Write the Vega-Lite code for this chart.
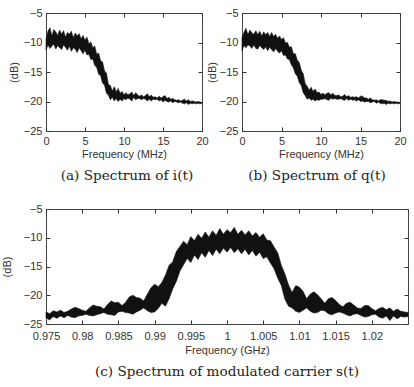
{
  "$schema": "https://vega.github.io/schema/vega-lite/v6.json",
  "padding": {"left": 0, "top": 6, "right": 0, "bottom": 0},
  "background": "white",
  "datasets": {
    "a": [
      {"f":0,"hi":-9.4,"lo":-11.3},{"f":0.25,"hi":-8.1,"lo":-10.4},{"f":0.5,"hi":-7.5,"lo":-11.0},{"f":0.75,"hi":-8.9,"lo":-10.6},
      {"f":1,"hi":-7.8,"lo":-10.3},{"f":1.25,"hi":-8.2,"lo":-11.1},{"f":1.5,"hi":-8.8,"lo":-10.5},{"f":1.75,"hi":-7.9,"lo":-10.9},
      {"f":2,"hi":-8.6,"lo":-11.2},{"f":2.25,"hi":-8.0,"lo":-10.4},{"f":2.5,"hi":-9.1,"lo":-10.8},{"f":2.75,"hi":-8.3,"lo":-11.3},
      {"f":3,"hi":-8.6,"lo":-10.6},{"f":3.25,"hi":-8.1,"lo":-11.5},{"f":3.5,"hi":-9.2,"lo":-10.9},{"f":3.75,"hi":-8.4,"lo":-11.1},
      {"f":4,"hi":-8.9,"lo":-11.7},{"f":4.25,"hi":-8.5,"lo":-10.9},{"f":4.5,"hi":-9.4,"lo":-11.4},{"f":4.75,"hi":-8.8,"lo":-11.9},
      {"f":5,"hi":-9.6,"lo":-11.3},{"f":5.25,"hi":-9.1,"lo":-12.1},{"f":5.5,"hi":-10.2,"lo":-12.0},{"f":5.75,"hi":-9.9,"lo":-12.9},
      {"f":6,"hi":-10.9,"lo":-12.8},{"f":6.25,"hi":-10.6,"lo":-13.9},{"f":6.5,"hi":-12.0,"lo":-14.2},{"f":6.75,"hi":-11.8,"lo":-15.4},
      {"f":7,"hi":-13.1,"lo":-15.6},{"f":7.25,"hi":-13.3,"lo":-16.9},{"f":7.5,"hi":-14.8,"lo":-17.2},{"f":7.75,"hi":-15.2,"lo":-18.6},
      {"f":8,"hi":-17.1,"lo":-18.9},{"f":8.25,"hi":-17.3,"lo":-19.7},{"f":8.5,"hi":-18.2,"lo":-19.3},{"f":8.75,"hi":-17.5,"lo":-19.9},
      {"f":9,"hi":-18.4,"lo":-19.5},{"f":9.25,"hi":-17.8,"lo":-20.0},{"f":9.5,"hi":-18.6,"lo":-19.6},{"f":9.75,"hi":-18.3,"lo":-19.9},
      {"f":10,"hi":-18.9,"lo":-19.5},{"f":10.25,"hi":-18.5,"lo":-19.7},{"f":10.5,"hi":-18.9,"lo":-19.4},{"f":10.75,"hi":-18.7,"lo":-19.6},
      {"f":11,"hi":-18.4,"lo":-19.9},{"f":11.25,"hi":-19.0,"lo":-19.3},{"f":11.5,"hi":-18.5,"lo":-19.7},{"f":11.75,"hi":-18.9,"lo":-19.5},
      {"f":12,"hi":-19.1,"lo":-19.5},{"f":12.25,"hi":-18.9,"lo":-19.7},{"f":12.5,"hi":-19.2,"lo":-19.5},{"f":12.75,"hi":-19.0,"lo":-19.6},
      {"f":13,"hi":-18.7,"lo":-19.9},{"f":13.25,"hi":-19.2,"lo":-19.6},{"f":13.5,"hi":-18.9,"lo":-19.9},{"f":13.75,"hi":-19.3,"lo":-19.6},
      {"f":14,"hi":-19.2,"lo":-19.7},{"f":14.25,"hi":-19.4,"lo":-19.6},{"f":14.5,"hi":-19.1,"lo":-19.9},{"f":14.75,"hi":-19.4,"lo":-19.7},
      {"f":15,"hi":-19.2,"lo":-20.1},{"f":15.25,"hi":-19.0,"lo":-19.8},{"f":15.5,"hi":-19.5,"lo":-20.0},{"f":15.75,"hi":-19.3,"lo":-20.1},
      {"f":16,"hi":-19.6,"lo":-19.9},{"f":16.25,"hi":-19.5,"lo":-20.2},{"f":16.5,"hi":-19.7,"lo":-20.0},{"f":16.75,"hi":-19.8,"lo":-20.1},
      {"f":17,"hi":-19.7,"lo":-20.2},{"f":17.25,"hi":-19.9,"lo":-20.1},{"f":17.5,"hi":-19.8,"lo":-20.3},{"f":17.75,"hi":-19.6,"lo":-20.4},
      {"f":18,"hi":-19.9,"lo":-20.2},{"f":18.25,"hi":-19.7,"lo":-20.5},{"f":18.5,"hi":-20.0,"lo":-20.3},{"f":18.75,"hi":-19.9,"lo":-20.4},
      {"f":19,"hi":-20.0,"lo":-20.3},{"f":19.25,"hi":-20.1,"lo":-20.4},{"f":19.5,"hi":-20.0,"lo":-20.3},{"f":19.75,"hi":-20.1,"lo":-20.4},
      {"f":20,"hi":-20.2,"lo":-20.3}
    ],
    "b": [
      {"f":0,"hi":-9.2,"lo":-11.4},{"f":0.25,"hi":-8.3,"lo":-10.5},{"f":0.5,"hi":-7.6,"lo":-10.9},{"f":0.75,"hi":-8.7,"lo":-10.4},
      {"f":1,"hi":-7.9,"lo":-10.6},{"f":1.25,"hi":-8.4,"lo":-11.0},{"f":1.5,"hi":-8.6,"lo":-10.4},{"f":1.75,"hi":-8.0,"lo":-11.0},
      {"f":2,"hi":-8.7,"lo":-11.1},{"f":2.25,"hi":-8.1,"lo":-10.5},{"f":2.5,"hi":-8.9,"lo":-10.9},{"f":2.75,"hi":-8.2,"lo":-11.2},
      {"f":3,"hi":-8.7,"lo":-10.7},{"f":3.25,"hi":-8.3,"lo":-11.4},{"f":3.5,"hi":-9.0,"lo":-10.8},{"f":3.75,"hi":-8.3,"lo":-11.2},
      {"f":4,"hi":-9.0,"lo":-11.6},{"f":4.25,"hi":-8.6,"lo":-11.0},{"f":4.5,"hi":-9.3,"lo":-11.5},{"f":4.75,"hi":-8.9,"lo":-11.8},
      {"f":5,"hi":-9.5,"lo":-11.4},{"f":5.25,"hi":-9.2,"lo":-12.2},{"f":5.5,"hi":-10.1,"lo":-12.1},{"f":5.75,"hi":-10.0,"lo":-12.8},
      {"f":6,"hi":-10.8,"lo":-12.9},{"f":6.25,"hi":-10.7,"lo":-13.8},{"f":6.5,"hi":-11.9,"lo":-14.3},{"f":6.75,"hi":-11.9,"lo":-15.3},
      {"f":7,"hi":-13.0,"lo":-15.7},{"f":7.25,"hi":-13.4,"lo":-16.8},{"f":7.5,"hi":-14.7,"lo":-17.3},{"f":7.75,"hi":-15.3,"lo":-18.5},
      {"f":8,"hi":-17.0,"lo":-19.0},{"f":8.25,"hi":-17.4,"lo":-19.6},{"f":8.5,"hi":-18.1,"lo":-19.4},{"f":8.75,"hi":-17.6,"lo":-19.8},
      {"f":9,"hi":-18.3,"lo":-19.6},{"f":9.25,"hi":-17.9,"lo":-19.9},{"f":9.5,"hi":-18.5,"lo":-19.7},{"f":9.75,"hi":-18.4,"lo":-19.8},
      {"f":10,"hi":-18.8,"lo":-19.6},{"f":10.25,"hi":-18.6,"lo":-19.6},{"f":10.5,"hi":-18.9,"lo":-19.5},{"f":10.75,"hi":-18.6,"lo":-19.7},
      {"f":11,"hi":-18.5,"lo":-19.8},{"f":11.25,"hi":-18.9,"lo":-19.4},{"f":11.5,"hi":-18.6,"lo":-19.6},{"f":11.75,"hi":-19.0,"lo":-19.5},
      {"f":12,"hi":-19.0,"lo":-19.6},{"f":12.25,"hi":-18.9,"lo":-19.6},{"f":12.5,"hi":-19.2,"lo":-19.5},{"f":12.75,"hi":-19.1,"lo":-19.7},
      {"f":13,"hi":-18.8,"lo":-19.8},{"f":13.25,"hi":-19.2,"lo":-19.5},{"f":13.5,"hi":-19.0,"lo":-19.8},{"f":13.75,"hi":-19.3,"lo":-19.6},
      {"f":14,"hi":-19.2,"lo":-19.8},{"f":14.25,"hi":-19.3,"lo":-19.7},{"f":14.5,"hi":-19.2,"lo":-19.9},{"f":14.75,"hi":-19.4,"lo":-19.7},
      {"f":15,"hi":-19.1,"lo":-20.0},{"f":15.25,"hi":-19.1,"lo":-19.9},{"f":15.5,"hi":-19.4,"lo":-20.1},{"f":15.75,"hi":-19.4,"lo":-20.0},
      {"f":16,"hi":-19.6,"lo":-20.0},{"f":16.25,"hi":-19.4,"lo":-20.2},{"f":16.5,"hi":-19.7,"lo":-20.1},{"f":16.75,"hi":-19.8,"lo":-20.0},
      {"f":17,"hi":-19.7,"lo":-20.3},{"f":17.25,"hi":-19.9,"lo":-20.1},{"f":17.5,"hi":-19.7,"lo":-20.3},{"f":17.75,"hi":-19.7,"lo":-20.4},
      {"f":18,"hi":-19.8,"lo":-20.3},{"f":18.25,"hi":-19.8,"lo":-20.5},{"f":18.5,"hi":-20.0,"lo":-20.3},{"f":18.75,"hi":-19.9,"lo":-20.4},
      {"f":19,"hi":-20.1,"lo":-20.3},{"f":19.25,"hi":-20.0,"lo":-20.4},{"f":19.5,"hi":-20.1,"lo":-20.3},{"f":19.75,"hi":-20.1,"lo":-20.4},
      {"f":20,"hi":-20.2,"lo":-20.3}
    ],
    "c": [
      {"f":0.975,"hi":-22.9,"lo":-23.9},{"f":0.9755,"hi":-23.2,"lo":-24.3},{"f":0.976,"hi":-22.7,"lo":-23.7},{"f":0.9765,"hi":-22.9,"lo":-24.0},
      {"f":0.977,"hi":-22.6,"lo":-23.6},{"f":0.9775,"hi":-23.0,"lo":-23.9},{"f":0.978,"hi":-22.8,"lo":-23.5},{"f":0.9785,"hi":-22.4,"lo":-23.8},
      {"f":0.979,"hi":-22.1,"lo":-23.9},{"f":0.9795,"hi":-22.3,"lo":-23.6},{"f":0.98,"hi":-22.6,"lo":-23.5},{"f":0.9805,"hi":-22.8,"lo":-23.3},
      {"f":0.981,"hi":-22.2,"lo":-23.5},{"f":0.9815,"hi":-21.7,"lo":-23.6},{"f":0.982,"hi":-21.9,"lo":-23.4},{"f":0.9825,"hi":-22.0,"lo":-23.2},
      {"f":0.983,"hi":-22.4,"lo":-23.0},{"f":0.9835,"hi":-21.6,"lo":-23.3},{"f":0.984,"hi":-21.0,"lo":-23.4},{"f":0.9845,"hi":-21.3,"lo":-23.5},
      {"f":0.985,"hi":-21.2,"lo":-22.9},{"f":0.9855,"hi":-21.8,"lo":-22.8},{"f":0.986,"hi":-21.2,"lo":-23.0},{"f":0.9865,"hi":-20.3,"lo":-23.1},
      {"f":0.987,"hi":-20.0,"lo":-23.3},{"f":0.9875,"hi":-20.4,"lo":-22.9},{"f":0.988,"hi":-20.5,"lo":-22.6},{"f":0.9885,"hi":-21.0,"lo":-22.2},
      {"f":0.989,"hi":-19.8,"lo":-22.7},{"f":0.9895,"hi":-18.7,"lo":-23.0},{"f":0.99,"hi":-18.1,"lo":-22.9},{"f":0.9905,"hi":-18.5,"lo":-22.3},
      {"f":0.991,"hi":-17.8,"lo":-21.4},{"f":0.9915,"hi":-16.5,"lo":-21.9},{"f":0.992,"hi":-14.8,"lo":-20.6},{"f":0.9925,"hi":-14.2,"lo":-18.9},
      {"f":0.993,"hi":-12.4,"lo":-17.6},{"f":0.9935,"hi":-11.5,"lo":-15.8},{"f":0.994,"hi":-10.6,"lo":-14.7},{"f":0.9945,"hi":-11.2,"lo":-13.6},
      {"f":0.995,"hi":-9.8,"lo":-14.3},{"f":0.9955,"hi":-10.5,"lo":-13.0},{"f":0.996,"hi":-9.4,"lo":-13.8},{"f":0.9965,"hi":-10.1,"lo":-12.6},
      {"f":0.997,"hi":-9.0,"lo":-13.4},{"f":0.9975,"hi":-9.9,"lo":-12.2},{"f":0.998,"hi":-8.8,"lo":-13.1},{"f":0.9985,"hi":-9.6,"lo":-12.0},
      {"f":0.999,"hi":-8.4,"lo":-12.8},{"f":0.9995,"hi":-9.4,"lo":-11.8},{"f":1.0,"hi":-8.6,"lo":-12.5},{"f":1.0005,"hi":-9.1,"lo":-11.7},
      {"f":1.001,"hi":-8.2,"lo":-12.6},{"f":1.0015,"hi":-9.4,"lo":-11.9},{"f":1.002,"hi":-8.7,"lo":-12.8},{"f":1.0025,"hi":-9.5,"lo":-12.0},
      {"f":1.003,"hi":-8.8,"lo":-13.0},{"f":1.0035,"hi":-9.7,"lo":-12.2},{"f":1.004,"hi":-9.1,"lo":-13.2},{"f":1.0045,"hi":-9.9,"lo":-12.5},
      {"f":1.005,"hi":-9.3,"lo":-13.6},{"f":1.0055,"hi":-10.4,"lo":-13.3},{"f":1.006,"hi":-10.5,"lo":-14.4},{"f":1.0065,"hi":-11.6,"lo":-15.4},
      {"f":1.007,"hi":-12.6,"lo":-17.0},{"f":1.0075,"hi":-14.8,"lo":-18.3},{"f":1.008,"hi":-16.3,"lo":-20.7},{"f":1.0085,"hi":-18.2,"lo":-21.9},
      {"f":1.009,"hi":-19.5,"lo":-22.2},{"f":1.0095,"hi":-18.3,"lo":-22.8},{"f":1.01,"hi":-18.6,"lo":-23.0},{"f":1.0105,"hi":-19.3,"lo":-22.6},
      {"f":1.011,"hi":-20.6,"lo":-22.2},{"f":1.0115,"hi":-19.8,"lo":-22.8},{"f":1.012,"hi":-19.4,"lo":-23.1},{"f":1.0125,"hi":-19.9,"lo":-23.0},
      {"f":1.013,"hi":-20.6,"lo":-22.6},{"f":1.0135,"hi":-21.4,"lo":-22.7},{"f":1.014,"hi":-20.6,"lo":-23.2},{"f":1.0145,"hi":-20.4,"lo":-23.4},
      {"f":1.015,"hi":-20.9,"lo":-23.1},{"f":1.0155,"hi":-21.6,"lo":-22.9},{"f":1.016,"hi":-22.0,"lo":-23.1},{"f":1.0165,"hi":-21.4,"lo":-23.4},
      {"f":1.017,"hi":-21.2,"lo":-23.6},{"f":1.0175,"hi":-21.7,"lo":-23.3},{"f":1.018,"hi":-22.2,"lo":-23.2},{"f":1.0185,"hi":-22.3,"lo":-23.5},
      {"f":1.019,"hi":-21.8,"lo":-23.8},{"f":1.0195,"hi":-21.8,"lo":-23.7},{"f":1.02,"hi":-22.3,"lo":-23.4},{"f":1.0205,"hi":-22.7,"lo":-23.3},
      {"f":1.021,"hi":-22.3,"lo":-23.8},{"f":1.0215,"hi":-22.1,"lo":-24.0},{"f":1.022,"hi":-22.5,"lo":-23.6},{"f":1.0225,"hi":-22.2,"lo":-24.4},
      {"f":1.023,"hi":-22.8,"lo":-23.6},{"f":1.0235,"hi":-22.4,"lo":-24.1},{"f":1.024,"hi":-22.8,"lo":-23.7},{"f":1.0245,"hi":-22.9,"lo":-23.8},
      {"f":1.025,"hi":-23.0,"lo":-23.7}
    ]
  },
  "vconcat": [
    {
      "hconcat": [
        {
          "width": 156, "height": 118,
          "data": {"name": "a"},
          "title": {"text": "(a) Spectrum of i(t)", "orient": "bottom", "anchor": "middle", "offset": 10, "dx": 3},
          "layer": [
            {
              "mark": {"type": "area", "color": "#111", "stroke": "#111", "strokeWidth": 0.6},
              "encoding": {
                "x": {"field": "f", "type": "quantitative", "scale": {"domain": [0, 20], "nice": false, "zero": false},
                      "axis": {"orient": "bottom", "values": [0, 5, 10, 15, 20], "title": "Frequency (MHz)", "titlePadding": 2}},
                "y": {"field": "hi", "type": "quantitative", "scale": {"domain": [-25, -5], "nice": false, "zero": false},
                      "axis": {"orient": "left", "values": [-25, -20, -15, -10, -5], "title": "(dB)", "titlePadding": 4}},
                "y2": {"field": "lo"}
              }
            },
            {
              "mark": {"type": "point", "opacity": 0},
              "encoding": {
                "x": {"field": "f", "type": "quantitative", "axis": {"orient": "top", "values": [0, 5, 10, 15, 20], "labels": false, "title": null}},
                "y": {"field": "hi", "type": "quantitative", "axis": {"orient": "right", "values": [-25, -20, -15, -10, -5], "labels": false, "title": null}}
              }
            }
          ],
          "resolve": {"axis": {"x": "independent", "y": "independent"}}
        },
        {
          "width": 158, "height": 118,
          "data": {"name": "b"},
          "title": {"text": "(b) Spectrum of q(t)", "orient": "bottom", "anchor": "middle", "offset": 10, "dx": -4},
          "layer": [
            {
              "mark": {"type": "area", "color": "#111", "stroke": "#111", "strokeWidth": 0.6},
              "encoding": {
                "x": {"field": "f", "type": "quantitative", "scale": {"domain": [0, 20], "nice": false, "zero": false},
                      "axis": {"orient": "bottom", "values": [0, 5, 10, 15, 20], "title": "Frequency (MHz)", "titlePadding": 2}},
                "y": {"field": "hi", "type": "quantitative", "scale": {"domain": [-25, -5], "nice": false, "zero": false},
                      "axis": {"orient": "left", "values": [-25, -20, -15, -10, -5], "title": "(dB)", "titlePadding": 2}},
                "y2": {"field": "lo"}
              }
            },
            {
              "mark": {"type": "point", "opacity": 0},
              "encoding": {
                "x": {"field": "f", "type": "quantitative", "axis": {"orient": "top", "values": [0, 5, 10, 15, 20], "labels": false, "title": null}},
                "y": {"field": "hi", "type": "quantitative", "axis": {"orient": "right", "values": [-25, -20, -15, -10, -5], "labels": false, "title": null}}
              }
            }
          ],
          "resolve": {"axis": {"x": "independent", "y": "independent"}}
        }
      ],
      "spacing": -4
    },
    {
      "width": 362, "height": 115,
      "data": {"name": "c"},
      "title": {"text": "(c) Spectrum of modulated carrier s(t)", "orient": "bottom", "anchor": "middle", "offset": 10},
      "layer": [
        {
          "mark": {"type": "area", "color": "#111", "stroke": "#111", "strokeWidth": 0.6},
          "encoding": {
            "x": {"field": "f", "type": "quantitative", "scale": {"domain": [0.975, 1.025], "nice": false, "zero": false},
                  "axis": {"orient": "bottom", "values": [0.975, 0.98, 0.985, 0.99, 0.995, 1, 1.005, 1.01, 1.015, 1.02], "format": "~g", "labelOverlap": false, "labelPadding": 6, "title": "Frequency (GHz)", "titlePadding": 3}},
            "y": {"field": "hi", "type": "quantitative", "scale": {"domain": [-25, -5], "nice": false, "zero": false},
                  "axis": {"orient": "left", "values": [-25, -20, -15, -10, -5], "title": "(dB)", "titlePadding": 11}},
            "y2": {"field": "lo"}
          }
        },
        {
          "mark": {"type": "point", "opacity": 0},
          "encoding": {
            "x": {"field": "f", "type": "quantitative", "axis": {"orient": "top", "values": [0.975, 0.98, 0.985, 0.99, 0.995, 1, 1.005, 1.01, 1.015, 1.02], "labels": false, "title": null}},
            "y": {"field": "hi", "type": "quantitative", "axis": {"orient": "right", "values": [-25, -20, -15, -10, -5], "labels": false, "title": null}}
          }
        }
      ],
      "resolve": {"axis": {"x": "independent", "y": "independent"}}
    }
  ],
  "spacing": 18,
  "config": {
    "font": "Liberation Sans",
    "view": {"stroke": "#444", "strokeWidth": 1},
    "axis": {
      "domain": false, "grid": false, "zindex": 1, "tickSize": 4, "offset": -4, "tickColor": "#333", "tickWidth": 1, "labelFlush": false,
      "labelFont": "Liberation Sans", "labelFontSize": 11, "labelColor": "#333", "labelPadding": 4,
      "titleFont": "Liberation Sans", "titleFontSize": 11, "titleFontWeight": "normal", "titleColor": "#333"
    },
    "title": {"font": "DejaVu Serif", "fontSize": 13.6, "fontWeight": "normal", "color": "#222"}
  }
}
